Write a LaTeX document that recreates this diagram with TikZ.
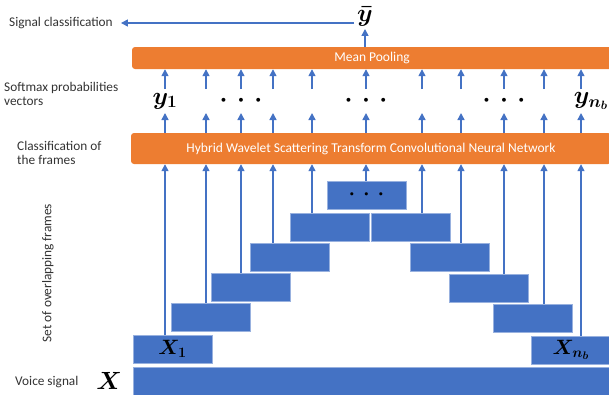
\documentclass[tikz,border=0pt]{standalone}
\usepackage{fontspec}
\setmainfont{Carlito}
\usetikzlibrary{arrows.meta}
\definecolor{officeblue}{HTML}{4472C4}
\definecolor{officeorange}{HTML}{ED7D31}
\definecolor{labelgray}{HTML}{333333}
\newcommand{\threedots}{{\cdot}\mkern6mu{\cdot}\mkern6mu{\cdot}}
\newcommand{\framedots}{{\fontsize{20}{20}\selectfont$\threedots$}}

\begin{document}
\begin{tikzpicture}[x=1pt, y=-1pt,
  arr/.style={officeblue, line width=1.5pt, -{Triangle[width=7pt, length=7pt]}},
  bar/.style={fill=officeorange, rounded corners=3pt, text=white, inner sep=0pt, minimum width=480pt, font=\fontsize{13.5}{15}\selectfont},
  frame/.style={fill=officeblue, draw=officeblue!55!white, line width=0.6pt, minimum width=79pt, minimum height=28pt, inner sep=0pt, font=\boldmath\fontsize{22}{22}\selectfont},
  lbl/.style={text=labelgray, align=left, anchor=west, inner sep=0pt, font=\fontsize{13.3}{14.5}\selectfont},
  big/.style={inner sep=0pt, font=\boldmath\fontsize{25}{25}\selectfont}]
  \useasboundingbox (0, 0) rectangle (609, 394);
  \clip (0, 0) rectangle (609, 394);
  % columns of the frames
  \foreach \i/\x in {1/165, 2/206, 3/241, 4/273, 5/312, 6/366, 7/422, 8/461, 9/504, 10/544, 11/581} {
    \coordinate (c\i) at (\x, 0);
  }
  \coordinate (ytop) at (0, 89);
  \coordinate (ybot) at (0, 113);
  % bars
  \node[bar, minimum height=22pt] (pool) at (372, 58) {Mean Pooling};
  \node[bar, minimum height=31pt] (cnn) at (371, 148.5) {Hybrid Wavelet Scattering Transform Convolutional Neural Network};
  \node[fill=officeblue, draw=officeblue!55!white, line width=0.6pt, minimum width=480pt, minimum height=28pt] (sig) at (373, 381) {};
  % frames
  \foreach \i/\x/\y/\t in {1/172.5/349/{$X_1$}, 2/211/317/{}, 3/250.5/287/{}, 4/290/257/{}, 5/329.5/227/{},
      6/366.5/195/{\framedots}, 7/410.5/227/{}, 8/449.5/257/{}, 9/489/288/{}, 10/532.5/318/{}, 11/571/350/{$X_{n_b}$}} {
    \node[frame] (f\i) at (\x, \y) {\t};
  }
  % outputs
  \node[big] (ybar) at (365, 17) {$\bar{y}$};
  \node[big] (y1) at (165, 101) {$y_1$};
  \node[big] (d1) at (241, 101) {$\threedots$};
  \node[big] (d2) at (366, 101) {$\threedots$};
  \node[big] (d3) at (504, 101) {$\threedots$};
  \node[big] (ynb) at (591, 101) {$y_{n_b}$};
  % labels
  \node[lbl] (sigcls) at (9, 23) {Signal classification};
  \node[lbl] (softmax) at (4, 94) {Softmax probabilities\\vectors};
  \node[lbl] (clsframes) at (17, 153) {Classification of\\the frames};
  \node[lbl, rotate=90, anchor=center] (setlbl) at (48, 273) {Set of overlapping frames};
  \node[lbl] (voice) at (15, 382) {Voice signal};
  \node[font=\boldmath\fontsize{28}{28}\selectfont, inner sep=0pt] (xsig) at (109, 381) {$X$};
  % arrows
  \foreach \i in {1, ..., 11} {
    \draw[arr] (f\i.north -| c\i) -- (cnn.south -| c\i);
    \draw[arr] (cnn.north -| c\i) -- (c\i |- ybot);
    \draw[arr] (c\i |- ytop) -- (pool.south -| c\i);
  }
  \draw[arr] (pool.north -| ybar) -- ([yshift=-2pt]ybar.south);
  \draw[arr, shorten >=8pt] ([xshift=-3pt]ybar.west |- sigcls) -- (sigcls.east);
\end{tikzpicture}
\end{document}
